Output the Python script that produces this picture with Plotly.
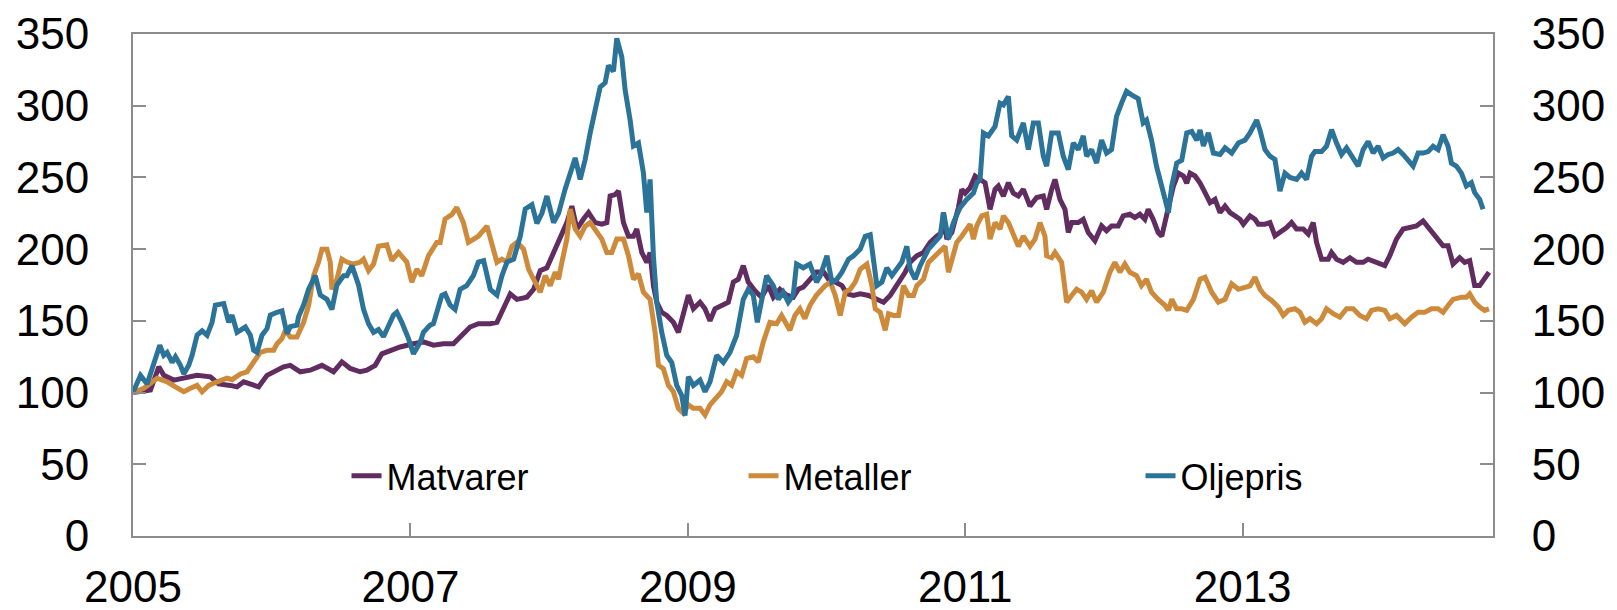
import plotly.graph_objects as go

# ---- data (decimal years, index 2005 = 100) ----
matvarer_t = [2005.0, 2005.126, 2005.186, 2005.222, 2005.294, 2005.366, 2005.462, 2005.558, 2005.618, 2005.702,
    2005.750, 2005.798, 2005.870, 2005.906, 2005.966, 2006.014, 2006.086, 2006.134, 2006.206, 2006.278,
    2006.362, 2006.446, 2006.506, 2006.566, 2006.638, 2006.686, 2006.746, 2006.794, 2006.854, 2006.926,
    2007.022, 2007.094, 2007.166, 2007.238, 2007.310, 2007.358, 2007.430, 2007.490,
    2007.576, 2007.624, 2007.672, 2007.720, 2007.768, 2007.840, 2007.888, 2007.936, 2007.984, 2008.032,
    2008.080, 2008.128, 2008.164, 2008.200, 2008.248, 2008.284, 2008.332, 2008.380, 2008.416, 2008.440,
    2008.476, 2008.500, 2008.536, 2008.572, 2008.608, 2008.632, 2008.668, 2008.704, 2008.728, 2008.752,
    2008.776, 2008.812, 2008.848, 2008.896, 2008.932, 2008.968, 2009.004, 2009.040, 2009.088, 2009.124,
    2009.160, 2009.196, 2009.244, 2009.292, 2009.328, 2009.364, 2009.400, 2009.436, 2009.484, 2009.532,
    2009.580, 2009.616, 2009.664, 2009.712, 2009.760, 2009.796, 2009.832, 2009.880, 2009.928,
    2009.979, 2010.015, 2010.063, 2010.111, 2010.147, 2010.195, 2010.243, 2010.303, 2010.363, 2010.411,
    2010.459, 2010.507, 2010.531, 2010.567, 2010.603, 2010.651, 2010.699, 2010.747, 2010.795, 2010.831,
    2010.843, 2010.867, 2010.903, 2010.951, 2010.975, 2010.999, 2011.035, 2011.071, 2011.107, 2011.143,
    2011.179, 2011.215, 2011.239, 2011.275, 2011.311, 2011.347, 2011.383, 2011.419, 2011.467, 2011.515,
    2011.563, 2011.587, 2011.623, 2011.647, 2011.683, 2011.719, 2011.743, 2011.767, 2011.815, 2011.851,
    2011.887, 2011.935, 2011.983, 2012.019, 2012.055, 2012.103, 2012.139, 2012.187, 2012.223, 2012.259,
    2012.295, 2012.319, 2012.355, 2012.391,
    2012.417, 2012.441, 2012.465, 2012.501, 2012.537, 2012.573, 2012.597, 2012.621, 2012.657, 2012.693,
    2012.729, 2012.765, 2012.801, 2012.837, 2012.873, 2012.909, 2012.945, 2012.981, 2013.005, 2013.053,
    2013.089, 2013.113, 2013.161, 2013.197, 2013.233, 2013.269, 2013.317, 2013.353, 2013.389, 2013.437,
    2013.473, 2013.509, 2013.533, 2013.569, 2013.617, 2013.641, 2013.677, 2013.725, 2013.773, 2013.821,
    2013.869, 2013.905, 2013.965, 2014.025, 2014.061, 2014.109, 2014.157, 2014.205, 2014.253, 2014.301,
    2014.349, 2014.397, 2014.445, 2014.481, 2014.517, 2014.565, 2014.601, 2014.637, 2014.673, 2014.709,
    2014.745, 2014.776]
matvarer_v = [100, 101.8, 118, 112, 108.7, 110, 112, 111, 106, 105,
    104, 107.5, 105, 104, 112, 114.5, 118, 119, 114.5, 115.6,
    119, 114.5, 121.4, 116.8, 114.5, 115.6, 119, 127, 129.5, 131.8,
    134, 135.3, 133, 134, 134, 138.8, 145.7, 148,
    148, 149, 158.4, 168.8, 165, 166.5, 172, 185, 187, 197.7,
    209, 218.5, 230, 214, 221, 225.5, 218.5, 217.4, 218.5, 237,
    238, 240.5, 218.5, 209, 209, 214, 197.7, 190.8, 197.7, 174.6,
    163, 156, 153.8, 149, 142, 153.8, 168, 158.4, 163, 158.4,
    150, 158.4, 160.7, 163, 177, 179, 188.5, 177, 171, 166.5,
    174.6, 166.5, 172, 168, 166.5, 172, 173.5, 179, 184,
    184, 179, 177, 174.6, 168.8, 167.7, 168.8, 167.7, 165, 163,
    167.7, 174.6, 179, 183.9, 190.8, 195.4, 197.7, 204.7, 209, 211.6,
    225.5, 207, 211.6, 229, 241.7, 239, 242.8, 251, 248.6, 246.3,
    227.8, 241.7, 244, 237, 246.3, 239, 237, 241.7, 230, 236,
    237, 227.8, 241.7, 248.6, 234.7, 227.8, 211.6, 218.5, 218.5, 220.8,
    211.6, 205.8, 216.2, 212.8, 216.2, 216.2, 223.2, 224.3, 222, 224.3,
    220.8, 227.8, 220.8, 211.6,
    209, 218.5, 227.8, 244, 253, 251, 246, 253, 251, 246,
    239.4, 232.4, 234.7, 225.5, 230, 225.5, 223.2, 220.8, 217.4, 223.2,
    220.8, 217.4, 217.4, 218.5, 209.3, 211.6, 215, 218.5, 214, 214,
    210.5, 218.5, 204.7, 193, 193, 197.7, 193, 190.8, 194, 190.8,
    190.8, 193, 190.8, 188.5, 195.4, 207, 214, 215, 216.2, 219.7,
    214, 207, 202.4, 202.4, 189.6, 194, 190.8, 192, 174.6, 174.6,
    179, 183.9]

metaller_t = [2005.0, 2005.078, 2005.174, 2005.246, 2005.306, 2005.366, 2005.414, 2005.462, 2005.498, 2005.546,
    2005.606, 2005.678, 2005.714, 2005.774, 2005.822, 2005.870, 2005.918, 2005.966, 2006.014, 2006.038,
    2006.074, 2006.098, 2006.134, 2006.182, 2006.230, 2006.266, 2006.302, 2006.338, 2006.362, 2006.398,
    2006.422, 2006.434, 2006.470, 2006.506, 2006.542, 2006.590, 2006.638, 2006.662, 2006.698, 2006.734,
    2006.770, 2006.830, 2006.866, 2006.914, 2006.974, 2007.010, 2007.046, 2007.082, 2007.130, 2007.190,
    2007.214, 2007.250, 2007.298, 2007.334, 2007.382, 2007.418, 2007.454, 2007.490,
    2007.552, 2007.588, 2007.624, 2007.660, 2007.696, 2007.732, 2007.768, 2007.816, 2007.852, 2007.888,
    2007.936, 2007.972, 2008.008, 2008.044, 2008.068, 2008.092, 2008.128, 2008.152, 2008.188, 2008.224,
    2008.260, 2008.296, 2008.344, 2008.380, 2008.416, 2008.452, 2008.488, 2008.536, 2008.572, 2008.608,
    2008.644, 2008.680, 2008.728, 2008.764, 2008.788, 2008.824, 2008.860, 2008.896, 2008.932, 2008.968,
    2009.004, 2009.040, 2009.088, 2009.124, 2009.160, 2009.208, 2009.244, 2009.280, 2009.316, 2009.352,
    2009.388, 2009.424, 2009.472, 2009.508, 2009.544, 2009.592, 2009.640, 2009.676, 2009.712, 2009.736,
    2009.772, 2009.808, 2009.844, 2009.880, 2009.928,
    2009.991, 2010.027, 2010.063, 2010.099, 2010.135, 2010.171, 2010.207, 2010.243, 2010.291, 2010.327,
    2010.351, 2010.387, 2010.423, 2010.447, 2010.483, 2010.519, 2010.555, 2010.591, 2010.627, 2010.651,
    2010.699, 2010.735, 2010.783, 2010.831, 2010.855, 2010.879, 2010.903, 2010.939, 2010.975, 2011.011,
    2011.035, 2011.059, 2011.083, 2011.119, 2011.155, 2011.179, 2011.215, 2011.251, 2011.275, 2011.311,
    2011.347, 2011.383, 2011.419, 2011.467, 2011.503, 2011.539, 2011.575, 2011.587, 2011.623, 2011.647,
    2011.695, 2011.731, 2011.767, 2011.803, 2011.839, 2011.875, 2011.911, 2011.947, 2011.995, 2012.043,
    2012.079, 2012.115, 2012.151, 2012.187, 2012.235, 2012.271, 2012.307, 2012.343, 2012.391,
    2012.441, 2012.465, 2012.489, 2012.525, 2012.561, 2012.597, 2012.645, 2012.693, 2012.729, 2012.777,
    2012.825, 2012.873, 2012.921, 2012.969, 2013.017, 2013.053, 2013.089, 2013.125, 2013.161, 2013.209,
    2013.257, 2013.293, 2013.329, 2013.377, 2013.413, 2013.449, 2013.485, 2013.533, 2013.569, 2013.605,
    2013.653, 2013.701, 2013.749, 2013.797, 2013.845, 2013.893, 2013.929, 2013.977, 2014.025, 2014.061,
    2014.109, 2014.169, 2014.217, 2014.265, 2014.313, 2014.361, 2014.409, 2014.445, 2014.481, 2014.517,
    2014.577, 2014.613, 2014.637, 2014.673, 2014.709, 2014.745, 2014.776]
metaller_v = [100, 103, 110, 107.5, 104, 100.6, 103, 105, 100.6, 105,
    107.5, 110, 109, 113, 114.5, 121.4, 128, 129.5, 129.5, 134,
    137.6, 143.4, 138.8, 138.8, 149, 160.7, 181.5, 191, 200, 200,
    191, 172, 179, 193, 191, 189.6, 191, 193, 185, 189.6,
    202, 203, 192, 197.7, 191, 177, 186, 181.5, 195.4, 204.7,
    204.7, 221, 224, 229, 218.5, 204.7, 207, 209,
    216, 204.7, 190.8, 193, 191, 202, 204.7, 200, 186, 179,
    170, 181.5, 174.6, 183.9, 179, 190.8, 207, 228, 214, 209,
    216, 218.5, 211.6, 207, 197.7, 197.7, 207, 207, 195.4, 179,
    182.7, 170, 165, 142, 119, 116.6, 105, 100.6, 89, 85.6,
    91.4, 89, 89, 84.4, 91.4, 96, 100.6, 107.5, 105, 114.5,
    112, 123.7, 124.9, 121.4, 135.3, 149, 148, 153.8, 148, 143.4,
    153.8, 158.4, 151.5, 160.7, 168,
    174.6, 177, 167.7, 153.8, 170, 172, 177, 186, 189.6, 174.6,
    158.4, 156, 143.4, 155, 153.8, 153.8, 174.6, 167.7, 167.7, 174.6,
    179, 190.8, 195.4, 200, 202, 183.9, 193, 204.7, 209, 215,
    217.4, 207, 216.2, 223.2, 224.3, 207, 218.5, 214, 223.2, 218.5,
    209, 202, 209, 202, 207, 218.5, 209, 195.4, 194, 197.7,
    190.8, 163, 167.7, 172, 170, 165, 171, 163, 170, 183.9,
    190.8, 183.9, 189.6, 183.9, 181.5, 174.6, 179, 170, 165,
    160.7, 157.3, 165, 158.4, 158.4, 157.3, 165, 179, 180.4, 170,
    163, 165, 175.8, 172, 173, 174.4, 180.4, 172, 167.7, 164.2,
    159.6, 153.8, 157.3, 158.4, 156, 149, 151.5, 148, 151.5, 158.4,
    155, 152.6, 158.4, 158.4, 153.8, 151.5, 157.3, 158.4, 157.3, 151.5,
    153.8, 148, 152.6, 156, 156, 158.4, 158.4, 156, 160.7, 165,
    166.5, 166.5, 168.8, 163, 159.6, 157.3, 158.4]

oljepris_t = [2005.0, 2005.054, 2005.102, 2005.193, 2005.222, 2005.246, 2005.282, 2005.306, 2005.342, 2005.366,
    2005.402, 2005.426, 2005.462, 2005.498, 2005.534, 2005.570, 2005.594, 2005.654, 2005.690, 2005.714,
    2005.750, 2005.810, 2005.846, 2005.870, 2005.894, 2005.930, 2005.966, 2005.990, 2006.038, 2006.074,
    2006.110, 2006.134, 2006.182, 2006.194, 2006.230, 2006.266, 2006.314, 2006.350, 2006.398, 2006.434,
    2006.470, 2006.518, 2006.542, 2006.578, 2006.626, 2006.662, 2006.698, 2006.734, 2006.770, 2006.806,
    2006.830, 2006.878, 2006.902, 2006.938, 2006.986, 2007.022, 2007.070, 2007.094, 2007.142, 2007.166,
    2007.226, 2007.250, 2007.286, 2007.322, 2007.358, 2007.406, 2007.454, 2007.490,
    2007.528, 2007.576, 2007.624, 2007.660, 2007.696, 2007.744, 2007.792, 2007.828, 2007.876, 2007.912,
    2007.948, 2007.984, 2008.032, 2008.068, 2008.116, 2008.152, 2008.188, 2008.224, 2008.260, 2008.296,
    2008.332, 2008.368, 2008.404, 2008.428, 2008.464, 2008.488, 2008.524, 2008.548, 2008.584, 2008.608,
    2008.644, 2008.680, 2008.704, 2008.728, 2008.752, 2008.776, 2008.812, 2008.848, 2008.884, 2008.920,
    2008.956, 2008.980, 2009.004, 2009.040, 2009.088, 2009.124, 2009.160, 2009.208, 2009.256, 2009.304,
    2009.352, 2009.400, 2009.436, 2009.472, 2009.501, 2009.544, 2009.568, 2009.616, 2009.652, 2009.688,
    2009.724, 2009.760, 2009.784, 2009.832, 2009.880, 2009.928,
    2009.955, 2010.003, 2010.039, 2010.075, 2010.111, 2010.159, 2010.195, 2010.243, 2010.279, 2010.315,
    2010.363, 2010.399, 2010.435, 2010.471, 2010.507, 2010.543, 2010.579, 2010.603, 2010.639, 2010.675,
    2010.735, 2010.783, 2010.819, 2010.843, 2010.879, 2010.915, 2010.963, 2011.011, 2011.059, 2011.083,
    2011.107, 2011.131, 2011.167, 2011.215, 2011.251, 2011.275, 2011.311, 2011.335, 2011.371, 2011.419,
    2011.455, 2011.491, 2011.527, 2011.563, 2011.587, 2011.623, 2011.671, 2011.707, 2011.743, 2011.779,
    2011.815, 2011.851, 2011.875, 2011.911, 2011.947, 2011.983, 2012.019, 2012.055, 2012.091, 2012.127,
    2012.163, 2012.199, 2012.247, 2012.283, 2012.307, 2012.343, 2012.379,
    2012.441, 2012.465, 2012.489, 2012.525, 2012.561, 2012.597, 2012.633, 2012.669, 2012.693, 2012.717,
    2012.753, 2012.789, 2012.837, 2012.873, 2012.921, 2012.969, 2013.017, 2013.053, 2013.101, 2013.125,
    2013.161, 2013.197, 2013.233, 2013.269, 2013.305, 2013.341, 2013.389, 2013.425, 2013.461, 2013.497,
    2013.521, 2013.569, 2013.605, 2013.641, 2013.677, 2013.713, 2013.749, 2013.785, 2013.833, 2013.869,
    2013.905, 2013.941, 2013.977, 2014.013, 2014.049, 2014.085, 2014.121, 2014.157, 2014.193, 2014.229,
    2014.265, 2014.301, 2014.337, 2014.373, 2014.409, 2014.445, 2014.481, 2014.505, 2014.541, 2014.577,
    2014.613, 2014.649, 2014.673, 2014.709, 2014.733]
oljepris_v = [100, 112, 106, 133, 126, 128, 121, 125, 119, 113,
    119, 126, 140, 143, 140, 149, 161, 162, 149, 154,
    142, 145.7, 140, 129.5, 128, 140, 144.5, 154, 156, 157,
    141, 146, 147, 153, 161, 172, 181.5, 168, 165, 158,
    175, 181.5, 181.5, 188.5, 175, 158, 148, 142, 144, 139,
    144, 154, 156, 149, 137.6, 127, 135, 142, 147, 148,
    167.7, 168.8, 161, 158, 172, 174.6, 181.5, 191,
    192, 172, 168, 181.5, 191, 193, 209, 228, 231, 218,
    225, 237, 218.5, 225, 242, 253, 263.6, 248.6, 262.5, 281,
    297, 313, 316, 328, 324, 347, 334, 311, 290, 272,
    274, 253, 225.5, 248.6, 195, 163, 142, 126, 121, 105,
    98, 84, 111, 105, 108.7, 100.6, 107.5, 126, 121, 128,
    140, 165, 172, 168, 149, 168, 181.5, 174.6, 165, 170,
    163, 168, 189.6, 187, 189.6, 177,
    181.5, 195.4, 177, 179, 184, 193, 195.4, 200, 209, 210,
    174.6, 177, 187, 181.5, 186, 191, 202, 186, 179, 188.5,
    200, 204.7, 209, 225.5, 207, 218.5, 229, 234.7, 239, 246,
    248.6, 281, 279, 285.6, 301.8, 300.6, 306.4, 279, 276, 288,
    269.4, 288, 288, 264.8, 257.9, 281, 281, 264.8, 255.5, 274,
    269.4, 279, 264.8, 269.4, 260, 276, 267, 269.4, 292.5, 301.8,
    310, 307.6, 305, 288, 290, 276, 257.9,
    234.7, 225.5, 244, 260, 262, 281, 282, 276, 283, 272,
    281, 267, 266, 270.6, 267, 274, 276, 281, 290, 283,
    269.4, 264.8, 262.5, 240.5, 253, 250, 248.6, 253, 248.6, 264.8,
    268, 268, 271.7, 283.3, 274, 266, 270.6, 264.8, 257.9, 269.4,
    275, 267, 271.7, 263.6, 266, 267, 269.4, 266, 262.5, 257.9,
    267, 267, 268, 271.7, 269.4, 279.8, 271.7, 260, 257.9, 253,
    244, 246.3, 239.4, 234.7, 227.8]

series_names = ["Matvarer", "Metaller", "Oljepris"]
series_colors = ["#612D60", "#CE8A3B", "#2B7398"]
x_tickvals = [2005, 2007, 2009, 2011, 2013]
x_ticktext = ["2005", "2007", "2009", "2011", "2013"]
y_tickvals = [0, 50, 100, 150, 200, 250, 300, 350]

FONT = "Liberation Sans, Arial, sans-serif"
AXIS_GREY = "#8C8C8C"

fig = go.Figure()
for name, color, t, v in zip(series_names, series_colors,
                             [matvarer_t, metaller_t, oljepris_t],
                             [matvarer_v, metaller_v, oljepris_v]):
    fig.add_trace(go.Scatter(x=t, y=v, mode="lines", name=name,
                             line=dict(color=color, width=5)))
# invisible trace to drive the right-hand axis
fig.add_trace(go.Scatter(x=[2005], y=[100], yaxis="y2", mode="lines",
                         showlegend=False, hoverinfo="skip",
                         line=dict(color="rgba(0,0,0,0)")))

# the page body adds an 8px offset; the figure is sized to fill the rest
fig.update_layout(
    width=1609, height=602,
    margin=dict(l=125, r=124, t=26, b=74),
    paper_bgcolor="white", plot_bgcolor="white",
    font=dict(family=FONT, size=44, color="black"),
    showlegend=True,
    legend=dict(orientation="h", x=0.157, y=0.12, xanchor="left", yanchor="middle",
                font=dict(size=36, family=FONT), entrywidth=352, entrywidthmode="pixels",
                itemwidth=30, bgcolor="rgba(0,0,0,0)"),
    xaxis=dict(range=[2005, 2014.805], tickmode="array", tickvals=x_tickvals,
               ticktext=x_ticktext, ticks="inside", ticklen=13, tickwidth=1.5,
               tickcolor=AXIS_GREY, showline=True, linecolor=AXIS_GREY, linewidth=2,
               mirror=True, showgrid=False, zeroline=False, automargin=False,
               ticklabeloverflow="allow",
               tickfont=dict(size=44, family=FONT), ticklabelstandoff=11),
    yaxis=dict(range=[0, 350], tickmode="array", tickvals=y_tickvals,
               ticks="inside", ticklen=13, tickwidth=1.5, tickcolor=AXIS_GREY,
               showline=True, linecolor=AXIS_GREY, linewidth=2, showgrid=False,
               zeroline=False, automargin=False, ticklabeloverflow="allow",
               tickfont=dict(size=44, family=FONT), ticklabelstandoff=33),
    yaxis2=dict(range=[0, 350], tickmode="array", tickvals=y_tickvals,
                overlaying="y", side="right", ticks="inside", ticklen=13,
                tickwidth=1.5, tickcolor=AXIS_GREY, showline=True,
                linecolor=AXIS_GREY, linewidth=2, showgrid=False, zeroline=False,
                automargin=False, ticklabeloverflow="allow",
                tickfont=dict(size=44, family=FONT), ticklabelstandoff=28),
)

fig.write_html("out.html")
